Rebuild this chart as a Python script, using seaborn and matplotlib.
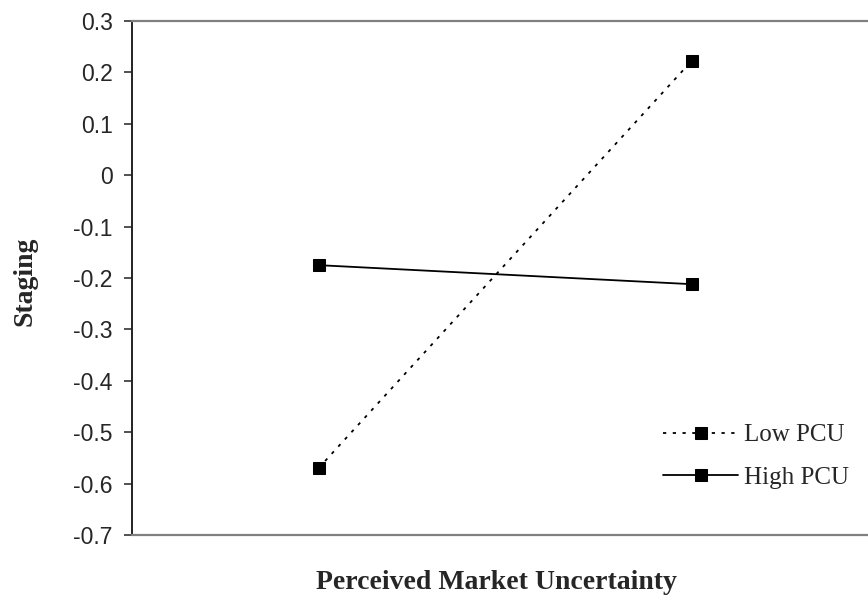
import matplotlib
matplotlib.use('Agg')
import matplotlib.pyplot as plt
import numpy as np
import pandas as pd
import seaborn as sns

# data
pmu_levels = ['Low', 'High']              # perceived market uncertainty
low_pcu = [-0.570, 0.222]
high_pcu = [-0.175, -0.212]
yticks = [0.3, 0.2, 0.1, 0.0, -0.1, -0.2, -0.3, -0.4, -0.5, -0.6, -0.7]
ytick_labels = ['0.3', '0.2', '0.1', '0', '-0.1', '-0.2', '-0.3', '-0.4', '-0.5', '-0.6', '-0.7']

sns.set_style('white')
plt.rcParams['font.family'] = ['Liberation Sans', 'DejaVu Sans']

pos = np.arange(len(pmu_levels))
df = pd.DataFrame({
    'pmu': np.concatenate([pos, pos]),
    'staging': low_pcu + high_pcu,
    'group': ['Low PCU'] * len(pos) + ['High PCU'] * len(pos),
})

fig = plt.figure(figsize=(8.68, 6.07), dpi=100)
ax = fig.add_axes([132 / 868, 1 - 535 / 607, 746 / 868, 514 / 607])

sns.lineplot(data=df[df.group == 'Low PCU'], x='pmu', y='staging', ax=ax,
             color='black', marker='s', markersize=8, linewidth=1.3,
             linestyle=(0, (1.8, 3.6)), label='Low PCU', markeredgecolor='black')
sns.lineplot(data=df[df.group == 'High PCU'], x='pmu', y='staging', ax=ax,
             color='black', marker='s', markersize=8, linewidth=1.3,
             label='High PCU', markeredgecolor='black')

ax.set_xlim(-0.5, 1.5)
ax.set_ylim(-0.7, 0.3)
ax.set_xticks([])
ax.set_yticks(yticks)
ax.set_yticklabels(ytick_labels, fontsize=16.5)
ax.tick_params(axis='y', direction='out', length=6, width=1.2, pad=8,
               left=True, color='#333333')

for s in ['top', 'bottom']:
    ax.spines[s].set_color('#808080')
    ax.spines[s].set_linewidth(1.6)
ax.spines['left'].set_color('#222222')
ax.spines['left'].set_linewidth(1.4)
ax.spines['right'].set_visible(False)

ax.set_xlabel('Perceived Market Uncertainty', fontsize=20, fontweight='bold',
              family='Liberation Serif')
ax.set_ylabel('Staging', fontsize=20, fontweight='bold', family='Liberation Serif')
ax.xaxis.set_label_coords(0.489, -0.093)
ax.xaxis.label.set_va('center')
ax.yaxis.set_label_coords(-0.1434, 0.494)
ax.yaxis.label.set_va('center')

ax.legend(loc='upper left', bbox_to_anchor=(0.712, 0.216), frameon=False,
          prop={'family': 'Liberation Serif', 'size': 18}, handlelength=3.0,
          handletextpad=0.25, borderpad=0, borderaxespad=0, labelspacing=0.79,
          numpoints=1)

fig.savefig('out.png', dpi=100)
